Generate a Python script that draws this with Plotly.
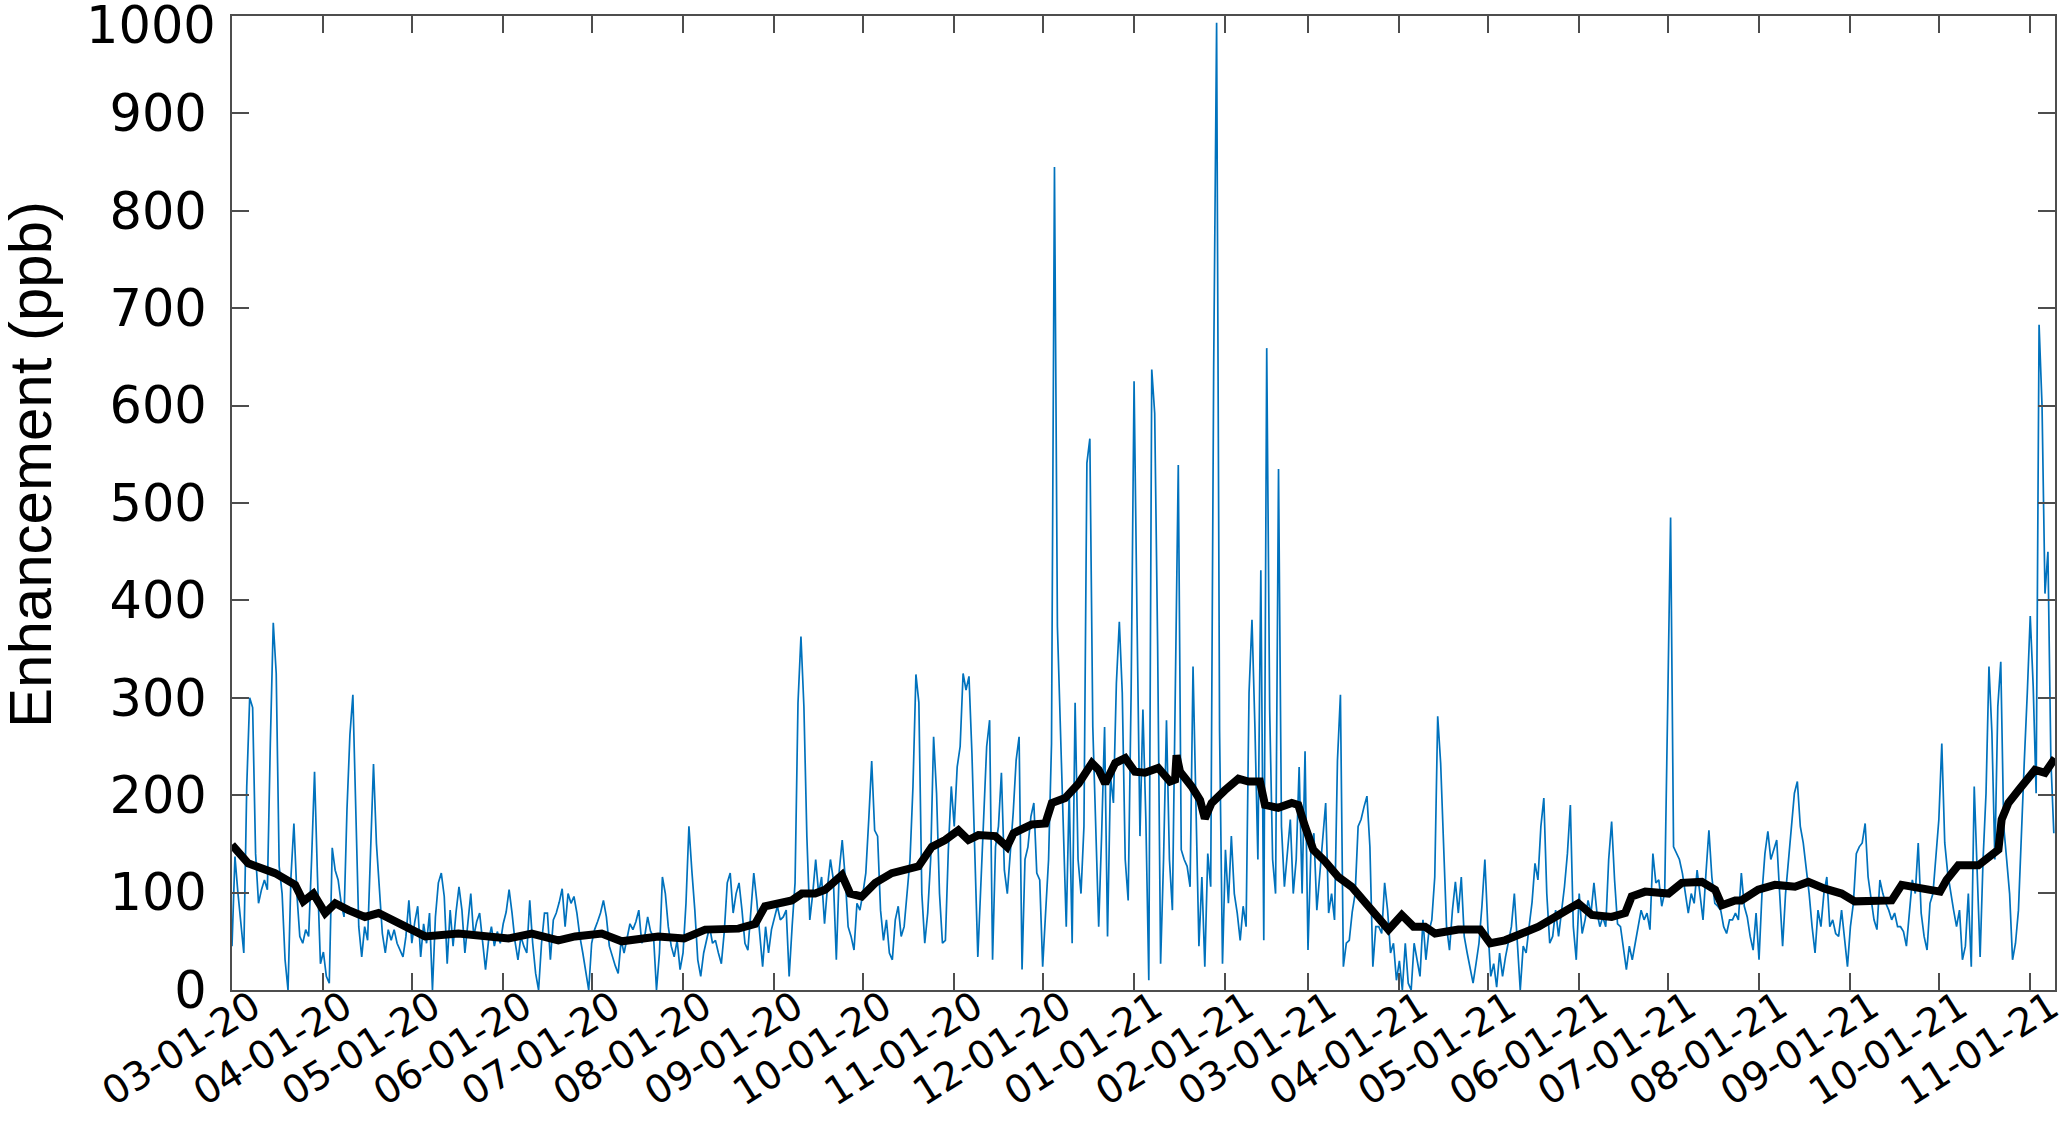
import pandas as pd
import plotly.graph_objects as go

# ---------------- data ----------------
START = "2020-03-01"

mar20 = [45, 137, 100, 70, 38, 209, 300, 290, 140, 89, 103, 113, 103, 253, 377, 325, 127, 99, 31, 0,
         116, 171, 99, 55, 48, 62, 55, 134, 224, 116, 27]
apr20 = [39, 14, 7, 146, 123, 113, 90, 75, 185, 262, 303, 175, 65, 34, 65, 51, 144, 232, 150, 99,
         58, 38, 62, 51, 62, 48, 40, 34, 55, 92]
may20 = [48, 70, 86, 34, 68, 48, 79, 0, 75, 110, 120, 96, 27, 82, 45, 80, 106, 82, 38, 70,
         99, 55, 70, 79, 48, 21, 50, 65, 45, 60, 48]
jun20 = [68, 80, 103, 79, 50, 31, 55, 45, 38, 92, 48, 17, 0, 48, 79, 79, 31, 72, 79, 90,
         104, 65, 99, 89, 96, 79, 55, 38, 17, 0]
jul20 = [48, 62, 70, 79, 92, 75, 45, 34, 25, 17, 51, 38, 55, 68, 62, 70, 82, 48, 55, 75,
         60, 55, 0, 38, 116, 99, 65, 45, 34, 51, 21]
aug20 = [38, 89, 168, 122, 82, 31, 14, 38, 51, 65, 48, 51, 38, 27, 60, 110, 120, 79, 99, 110,
         82, 48, 41, 80, 120, 92, 60, 24, 65, 38, 62]
sep20 = [75, 86, 72, 75, 82, 14, 65, 110, 295, 363, 291, 158, 72, 99, 134, 99, 116, 68, 106, 134,
         113, 31, 123, 154, 116, 65, 55, 41, 89, 82]
oct20 = [99, 120, 175, 235, 164, 158, 82, 51, 72, 38, 31, 72, 86, 55, 65, 100, 134, 209, 324, 295,
         99, 48, 79, 134, 260, 202, 99, 48, 51, 144, 209]
nov20 = [168, 229, 250, 325, 308, 322, 243, 137, 34, 106, 175, 250, 277, 31, 147, 168, 223, 123, 99, 140,
         182, 236, 260, 21, 134, 147, 178, 192, 120, 113]
dec20 = [24, 80, 134, 253, 845, 373, 270, 168, 65, 205, 48, 295, 134, 99, 168, 541, 566, 270, 168, 65,
         160, 270, 55, 219, 192, 315, 378, 305, 134, 92, 305]
jan21 = [625, 382, 158, 288, 175, 10, 637, 592, 353, 27, 134, 277, 134, 82, 312, 539, 144, 134, 127, 106,
         332, 168, 45, 116, 24, 140, 106, 636, 993, 267, 27]
feb21 = [144, 89, 158, 99, 79, 51, 86, 65, 305, 380, 270, 134, 431, 51, 659, 288, 134, 99, 535, 168,
         106, 140, 175, 99, 134, 229, 99, 245]
mar21 = [41, 144, 161, 82, 116, 151, 192, 79, 99, 72, 236, 303, 24, 48, 51, 80, 99, 168, 175, 188,
         199, 147, 24, 65, 65, 58, 110, 82, 38, 48, 10]
apr21 = [30, 0, 48, 7, 0, 48, 31, 14, 72, 31, 60, 72, 116, 281, 233, 140, 65, 41, 82, 111,
         79, 116, 55, 38, 21, 7, 27, 48, 86, 134]
may21 = [65, 14, 27, 3, 38, 14, 34, 50, 65, 99, 48, 0, 45, 38, 65, 90, 130, 113, 168, 197,
         99, 48, 55, 82, 55, 79, 106, 140, 190, 65, 31]
jun21 = [99, 58, 72, 92, 79, 110, 80, 65, 75, 65, 134, 173, 113, 68, 65, 41, 21, 45, 31, 48,
         65, 82, 72, 79, 62, 140, 110, 113, 86, 100]
jul21 = [288, 485, 147, 140, 134, 120, 99, 79, 99, 89, 123, 99, 72, 120, 164, 116, 89, 86, 82, 65,
         58, 72, 72, 79, 72, 120, 86, 75, 55, 41, 79]
aug21 = [31, 99, 140, 163, 134, 144, 154, 99, 45, 99, 134, 168, 202, 214, 168, 151, 127, 99, 65, 38,
         82, 65, 99, 116, 65, 72, 58, 55, 82, 55, 24]
sep21 = [65, 89, 140, 147, 151, 171, 116, 92, 72, 62, 113, 99, 89, 82, 72, 79, 65, 65, 60, 45,
         80, 113, 99, 151, 79, 55, 41, 89, 99, 140]
oct21 = [175, 253, 151, 120, 99, 82, 65, 82, 31, 45, 99, 24, 209, 116, 34, 134, 202, 332, 264, 134,
         291, 337, 168, 134, 99, 31, 48, 82, 168, 236, 305]
nov21 = [384, 312, 202, 683, 600, 407, 450, 236, 161]

enhancement = (mar20 + apr20 + may20 + jun20 + jul20 + aug20 + sep20 + oct20 + nov20 + dec20 +
               jan21 + feb21 + mar21 + apr21 + may21 + jun21 + jul21 + aug21 + sep21 + oct21 + nov21)

# running mean (black) : day offset from START, value
mean_day = [0, 5.5, 14.6, 21.4, 24.2, 27.6, 31.6, 35, 39.5, 45.1, 49.7, 57.6, 65.5, 76.8, 93.8, 101.7,
            110.7, 116.4, 125.4, 132.2, 144.6, 153.4, 160.5, 171.8, 177.5, 180.8, 185.4, 189.9, 193.3,
            197.8, 201.2, 206.9, 209.7, 213.6, 218.2, 223.8, 232.9, 237.4, 241.9, 246.4, 249.8, 253.2,
            258.9, 262.9, 265.1, 271.3, 275.9, 278.1, 282.6, 287.2, 291.7, 294, 296.2, 299.6, 303,
            306.3, 309.7, 314.2, 318.2, 319.9, 320.4, 321.6, 325.5, 328.4, 330, 332.3, 336.8, 341.4,
            344.8, 348.7, 350.4, 354.9, 359.5, 361.7, 364, 366.8, 370.8, 375.3, 379.8, 384.4, 388.9,
            392.3, 396.8, 400.8, 404.7, 408.1, 416, 423.4, 426.8, 431.8, 437.5, 443.2, 450, 456.7,
            461.3, 468, 472.6, 474.8, 479.4, 487.3, 491.8, 498.6, 503.1, 505.4, 509.9, 512, 517.7,
            523.4, 530.2, 534.7, 540.3, 546, 550.5, 556.2, 563, 566.4, 570.9, 575.4, 579.4, 581.6,
            585.6, 592.4, 596.9, 599.2, 600.3, 602.6, 606, 609.3, 611.6, 615, 617.3, 618.4]
mean_val = [149, 130, 120, 108, 91, 99, 79, 89, 82, 75, 79, 67, 55, 58, 53, 58,
            51, 55, 58, 50, 55, 53, 62, 63, 68, 86, 89, 92, 99,
            99, 103, 118, 99, 96, 110, 120, 127, 147, 154, 164, 154, 159,
            158, 147, 161, 170, 171, 192, 197, 212, 233, 226, 212, 233, 238,
            224, 223, 228, 214, 216, 241, 224, 209, 195, 176, 192, 205, 217,
            214, 214, 190, 187, 192, 190, 168, 144, 132, 116, 106, 89, 72,
            62, 77, 65, 65, 58, 62, 62, 48, 51, 58, 65, 77, 89,
            77, 75, 79, 96, 101, 99, 110, 111, 103, 87, 92, 92, 103,
            108, 106, 111, 104, 99, 91, 91, 92, 108, 106, 104, 101, 113,
            128, 128, 137, 144, 175, 192, 205, 219, 226, 223, 233, 238]

tick_dates = ["2020-03-01", "2020-04-01", "2020-05-01", "2020-06-01", "2020-07-01", "2020-08-01",
              "2020-09-01", "2020-10-01", "2020-11-01", "2020-12-01", "2021-01-01", "2021-02-01",
              "2021-03-01", "2021-04-01", "2021-05-01", "2021-06-01", "2021-07-01", "2021-08-01",
              "2021-09-01", "2021-10-01", "2021-11-01"]
tick_labels = ["03-01-20", "04-01-20", "05-01-20", "06-01-20", "07-01-20", "08-01-20", "09-01-20",
               "10-01-20", "11-01-20", "12-01-20", "01-01-21", "02-01-21", "03-01-21", "04-01-21",
               "05-01-21", "06-01-21", "07-01-21", "08-01-21", "09-01-21", "10-01-21", "11-01-21"]
y_ticks = [0, 100, 200, 300, 400, 500, 600, 700, 800, 900, 1000]
y_labels = ["0", "100", "200", "300", "400", "500", "600", "700", "800", "900", ""]
y_top_label = "1000"   # drawn separately, nudged down like the original so it is not clipped

# ---------------- figure ----------------
base = pd.Timestamp(START)
dates = pd.date_range(START, periods=len(enhancement), freq="D")
mean_dates = [base + pd.to_timedelta(d, unit="D") for d in mean_day]

fig = go.Figure()
fig.add_trace(go.Scatter(x=dates, y=enhancement, mode="lines",
                         line=dict(color="#0072BD", width=1.7), hoverinfo="skip"))
fig.add_trace(go.Scatter(x=mean_dates, y=mean_val, mode="lines",
                         line=dict(color="black", width=8), hoverinfo="skip"))

axis_col = "#4d4d4d"
tick_font_y = dict(family="DejaVu Sans", size=51, color="black")
fig.update_layout(
    width=2067, height=1123,
    margin=dict(l=232, r=12, t=16, b=133),
    plot_bgcolor="white", paper_bgcolor="white",
    showlegend=False,
    xaxis=dict(type="date", range=[base, base + pd.to_timedelta(618.4, unit="D")],
               tickvals=tick_dates, ticktext=tick_labels, tickangle=-32,
               tickfont=dict(family="DejaVu Sans", size=39, color="black"),
               ticks="inside", ticklen=17, tickwidth=2, tickcolor=axis_col,
               showline=True, linecolor=axis_col, linewidth=2, mirror="ticks",
               showgrid=False, zeroline=False, ticklabelstandoff=-23, ticklabelshift=21,
               ticklabeloverflow="allow", automargin=False),
    yaxis=dict(range=[0, 1000], tickvals=y_ticks, ticktext=y_labels,
               tickfont=tick_font_y,
               ticks="inside", ticklen=17, tickwidth=2, tickcolor=axis_col,
               showline=True, linecolor=axis_col, linewidth=2, mirror="ticks",
               showgrid=False, zeroline=False, ticklabelstandoff=13,
               ticklabeloverflow="allow", automargin=False),
    annotations=[
        dict(text="Enhancement (ppb)", textangle=-90, showarrow=False,
             xref="paper", yref="paper", x=-0.1106, y=0.5395,
             xanchor="center", yanchor="middle",
             font=dict(family="Liberation Sans, Arial, sans-serif", size=60, color="black")),
        dict(text=y_top_label, showarrow=False, xref="paper", yref="y", x=0, y=1000,
             xanchor="right", yanchor="middle", xshift=-14, yshift=-9, font=tick_font_y),
    ],
)

fig.write_html("out.html", config={"displayModeBar": False},
               post_script="document.body.style.margin='0';")
